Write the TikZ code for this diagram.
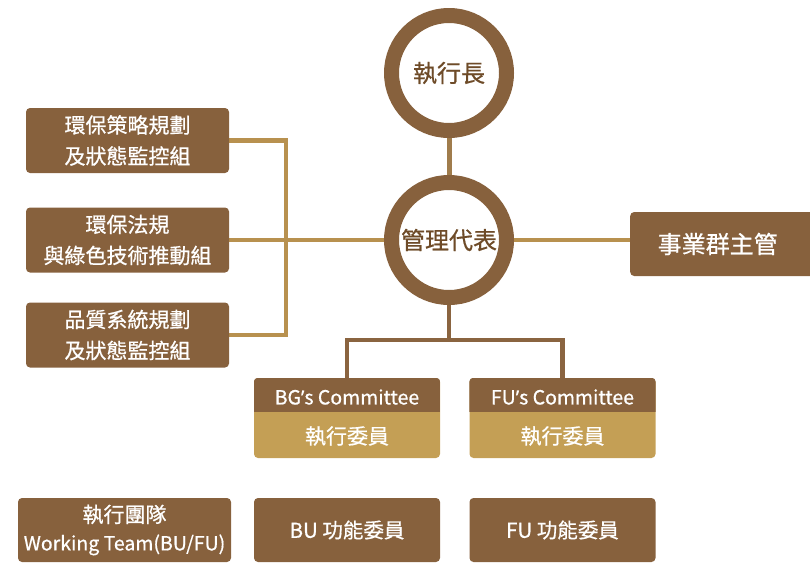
\documentclass[tikz,border=0pt]{standalone}
\usepackage{fontspec}
\setmainfont{Noto Sans CJK TC}[FakeBold=0.7]
\newfontfamily\latinf{Noto Sans}[FakeBold=0.4]
\newcommand{\apos}{{\latinf ’}}
\usetikzlibrary{backgrounds,calc}
\definecolor{dbrown}{HTML}{87613D}
\definecolor{gold}{HTML}{C49F55}
\definecolor{lgold}{HTML}{B8914F}
\definecolor{vline}{HTML}{A07C4C}
\definecolor{tline}{HTML}{8A6440}
\definecolor{ctext}{HTML}{6E4B28}
\tikzset{
  ring/.style={circle, draw=dbrown, line width=15pt, fill=white, minimum size=115pt, inner sep=0pt, text=ctext, font=\fontsize{24}{28}\selectfont},
  box/.style={rectangle, rounded corners=4pt, fill=dbrown, text=white, inner sep=0pt, align=center},
  lbox/.style={box, minimum width=203pt, minimum height=65pt, font=\fontsize{21}{31}\selectfont},
  cbox/.style={rectangle, rounded corners=4pt, fill=gold, inner sep=0pt, minimum width=186pt, minimum height=80pt},
  bbox/.style={box, minimum height=64pt, font=\fontsize{20.5}{24}\selectfont},
  txt/.style={text=white, inner sep=0pt},
  link/.style={line width=4.5pt, lgold},
}
\begin{document}
\begin{tikzpicture}[x=1pt,y=-1pt]
\useasboundingbox (0,0) rectangle (810,563);
% circles
\node[ring] (ceo) at (449,73) {執行長};
\node[ring] (mr) at (449,240) {管理代表};
% left boxes
\node[lbox] (l1) at (127.5,140.5) {環保策略規劃\\及狀態監控組};
\node[lbox] (l2) at (127.5,240) {環保法規\\與綠色技術推動組};
\node[lbox] (l3) at (127.5,335) {品質系統規劃\\及狀態監控組};
% right box
\node[box, minimum width=185pt, minimum height=64pt, font=\fontsize{24}{28}\selectfont, anchor=west] (bg) at (630,244) {\hspace*{-5pt}事業群主管\hspace*{5pt}};
% committee boxes
\node[cbox] (bgc) at (347,418) {};
\node[cbox] (fuc) at (562.5,418) {};
\foreach \n in {bgc,fuc}{
  \begin{scope}
    \clip[rounded corners=4pt] (\n.south west) rectangle (\n.north east);
    \fill[dbrown] (\n.north west) rectangle ($(\n.north east)+(0,34)$);
  \end{scope}
}
\node[txt, font=\fontsize{19.5}{22}\selectfont] (bgh) at (347,397) {BG\apos s Committee};
\node[txt, font=\fontsize{21}{24}\selectfont] (bgb) at (347,436) {執行委員};
\node[txt, font=\fontsize{19.5}{22}\selectfont] (fuh) at (562.5,397) {FU\apos s Committee};
\node[txt, font=\fontsize{21}{24}\selectfont] (fub) at (562.5,436) {執行委員};
% bottom boxes
\node[bbox, minimum width=213pt, font=\fontsize{19.5}{28}\selectfont] (wt) at (124.5,530) {{\fontsize{21}{28}\selectfont 執行團隊}\\Working Team(BU/FU)};
\node[bbox, minimum width=186pt] (bu) at (347,530) {BU 功能委員};
\node[bbox, minimum width=186pt] (fu) at (562.5,530) {FU 功能委員};
% connectors
\coordinate (bx) at (286,240);
\coordinate (ty) at (449,340);
\begin{scope}[on background layer]
  \draw[line width=5pt, vline] (ceo.center) -- (mr.center);
  \draw[link] (l1.east) -- (l1.east -| bx) -- (l3.east -| bx) -- (l3.east);
  \draw[link] (l2.east) -- (mr.center) -- (mr.center -| bg.west);
  \draw[line width=4.5pt, tline] (mr.center) -- (ty);
  \draw[line width=4.5pt, tline] (bgc.north) -- (bgc.north |- ty) -- (fuc.north |- ty) -- (fuc.north);
\end{scope}
\end{tikzpicture}
\end{document}
